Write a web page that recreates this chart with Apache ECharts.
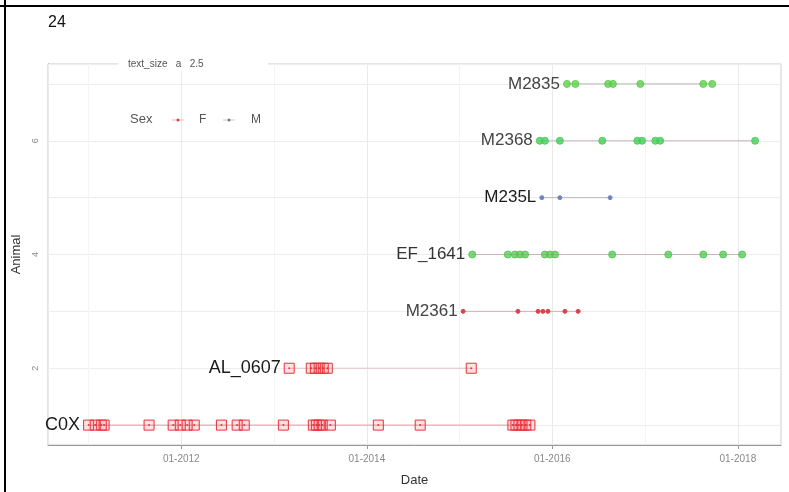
<!DOCTYPE html>
<html>
<head>
<meta charset="utf-8">
<script src="https://cdn.jsdelivr.net/npm/echarts@6/dist/echarts.min.js"></script>
<style>
  html, body { margin: 0; padding: 0; background: #fff; }
  #chart { width: 789px; height: 492px; }
</style>
</head>
<body>
<div id="chart"></div>
<script>
// animals, bottom row first
const animals = ['C0X', 'AL_0607', 'M2361', 'EF_1641', 'M235L', 'M2368', 'M2835'];
const animalRow = [1, 2, 3, 4, 5, 6, 7];
const sex = ['F', 'F', 'F', 'M', 'M', 'M', 'M'];

// sighting dates per animal
const datesC0X = ['2011-01-01', '2011-01-27', '2011-02-20', '2011-03-03', '2011-08-27', '2011-11-30',
  '2011-12-28', '2012-01-24', '2012-02-21', '2012-06-07', '2012-08-08', '2012-09-05', '2013-02-06',
  '2013-06-04', '2013-06-16', '2013-06-27', '2013-07-09', '2013-08-10', '2014-02-15', '2014-07-30',
  '2015-07-30', '2015-08-11', '2015-08-23', '2015-09-04', '2015-09-19', '2015-10-05'];
const datesAL0607 = ['2013-03-01', '2013-05-27', '2013-06-12', '2013-06-27', '2013-07-13', '2013-07-29', '2015-02-16'];
const datesM2361 = ['2015-01-15', '2015-08-19', '2015-11-06', '2015-11-25', '2015-12-15', '2016-02-20', '2016-04-12'];
const datesEF1641 = ['2015-02-20', '2015-07-10', '2015-08-07', '2015-08-27', '2015-09-16', '2015-12-03',
  '2015-12-23', '2016-01-12', '2016-08-24', '2017-04-02', '2017-08-18', '2017-11-04', '2018-01-18'];
const datesM235L = ['2015-11-21', '2016-01-31', '2016-08-16'];
const datesM2368 = ['2015-11-13', '2015-12-03', '2016-01-31', '2016-07-16', '2016-12-01', '2016-12-20',
  '2017-02-10', '2017-03-01', '2018-03-10'];
const datesM2835 = ['2016-02-28', '2016-04-01', '2016-08-08', '2016-08-27', '2016-12-13', '2017-08-18', '2017-09-22'];

const allDates = [datesC0X, datesAL0607, datesM2361, datesEF1641, datesM235L, datesM2368, datesM2835];

// x range of the panel
const xMin = '2010-07-25';
const xMax = '2018-06-20';
const yTickLabels = [2, 4, 6];

// look of each row (not data)
const rowStyle = [
  {sym: 'rect', size: 10, fill: 'rgba(255,60,70,0.15)', stroke: '#e8303a', line: '#e29aa1', font: 18, text: '#1a1a1a', dot: true},
  {sym: 'rect', size: 10, fill: 'rgba(255,60,70,0.15)', stroke: '#e8303a', line: '#e2c4c7', font: 18, text: '#1a1a1a', dot: true},
  {sym: 'circle', size: 4, fill: '#e0404a', stroke: '#e0404a', line: '#e4a8ad', font: 17, text: '#444'},
  {sym: 'circle', size: 7, fill: 'rgba(80,200,80,0.75)', stroke: 'rgba(80,200,80,0.9)', line: '#cdb4b8', font: 17, text: '#333'},
  {sym: 'circle', size: 4, fill: '#6a86c0', stroke: '#6a86c0', line: '#b8b8b8', font: 17, text: '#1a1a1a'},
  {sym: 'circle', size: 7, fill: 'rgba(70,205,90,0.8)', stroke: 'rgba(70,205,90,0.9)', line: '#c8b8bc', font: 17, text: '#444'},
  {sym: 'circle', size: 7, fill: 'rgba(90,205,70,0.75)', stroke: 'rgba(90,205,70,0.9)', line: '#b8b8b8', font: 17, text: '#444'}
];

const series = [];
animals.forEach((name, i) => {
  const st = rowStyle[i];
  const pts = allDates[i].map(d => [d, animalRow[i]]);
  series.push({
    type: 'line',
    name: name,
    data: pts,
    showAllSymbol: true,
    symbol: st.sym,
    symbolSize: st.size,
    itemStyle: {color: st.fill, borderColor: st.stroke, borderWidth: 1},
    lineStyle: {color: st.line, width: 1},
    label: {
      show: true,
      position: 'left',
      distance: 3,
      fontFamily: 'Liberation Sans',
      fontSize: st.font,
      color: st.text,
      formatter: p => p.dataIndex === 0 ? name : ''
    },
    emphasis: {disabled: true},
    z: 3
  });
  if (st.dot) {
    series.push({
      type: 'scatter',
      data: pts,
      symbol: 'circle',
      symbolSize: 2,
      itemStyle: {color: '#d6202c'},
      silent: true,
      z: 4
    });
  }
});

const chart = echarts.init(document.getElementById('chart'));
const oneYear = 365.25 * 86400000;

chart.setOption({
  animation: false,
  grid: {left: 48, right: 8, top: 64, bottom: 45, show: true, borderColor: '#c8c8c8', borderWidth: 1},
  xAxis: [{
    type: 'time',
    min: +new Date(xMin),
    max: +new Date(xMax),
    minInterval: 2 * oneYear,
    maxInterval: 2 * oneYear,
    name: 'Date',
    nameLocation: 'middle',
    nameGap: 29,
    nameTextStyle: {fontFamily: 'Liberation Sans', fontSize: 13, color: '#333'},
    axisLine: {show: true, lineStyle: {color: '#999'}},
    axisTick: {show: true, length: 4, lineStyle: {color: '#999'}},
    axisLabel: {
      fontFamily: 'Liberation Sans', fontSize: 10, color: '#888', margin: 9,
      hideOverlap: false,
      formatter: v => {
        const d = new Date(v);
        return String(d.getMonth() + 1).padStart(2, '0') + '-' + d.getFullYear();
      }
    },
    splitLine: {show: true, lineStyle: {color: '#e9e9e9'}},
    z: 2
  }, {
    // yearly faint grid only
    type: 'time',
    position: 'bottom',
    min: +new Date(xMin),
    max: +new Date(xMax),
    minInterval: oneYear,
    maxInterval: oneYear,
    axisLine: {show: false},
    axisTick: {show: false},
    axisLabel: {show: false},
    splitLine: {show: true, lineStyle: {color: '#f4f4f4'}},
    z: 1
  }],
  yAxis: {
    type: 'value',
    min: 0.65,
    max: 7.35,
    splitNumber: 7,
    name: 'Animal',
    nameLocation: 'middle',
    nameGap: 24,
    nameTextStyle: {fontFamily: 'Liberation Sans', fontSize: 13, color: '#333'},
    axisLine: {show: true, lineStyle: {color: '#999'}},
    axisTick: {show: false},
    axisLabel: {
      fontFamily: 'Liberation Sans', fontSize: 9, color: '#888', rotate: 90, margin: 8,
      showMinLabel: false, showMaxLabel: false,
      formatter: v => yTickLabels.indexOf(v) >= 0 ? String(v) : ''
    },
    splitLine: {show: true, lineStyle: {color: '#ededed'}}
  },
  graphic: [
    {type: 'line', shape: {x1: 5, y1: 0, x2: 5, y2: 492}, style: {stroke: '#000', lineWidth: 2}, z: 10},
    {type: 'line', shape: {x1: 0, y1: 6, x2: 789, y2: 6}, style: {stroke: '#000', lineWidth: 2}, z: 10},
    {type: 'text', left: 48, top: 15, style: {text: '24', fontFamily: 'Liberation Sans', fontSize: 16, fill: '#111'}},
    {type: 'rect', shape: {x: 118, y: 57, width: 150, height: 14}, style: {fill: '#fff'}, z: 10},
    {type: 'text', left: 128, top: 59, z: 11,
      style: {text: 'text_size   a   2.5', fontFamily: 'Liberation Sans', fontSize: 10, fill: '#555'}},
    {type: 'text', left: 130, top: 113, z: 11,
      style: {text: 'Sex', fontFamily: 'Liberation Sans', fontSize: 13, fill: '#555'}},
    {type: 'line', shape: {x1: 172, y1: 120, x2: 184, y2: 120}, style: {stroke: '#f2b8bd', lineWidth: 1}, z: 11},
    {type: 'circle', shape: {cx: 178, cy: 120, r: 1.5}, style: {fill: '#e0404a'}, z: 11},
    {type: 'text', left: 199, top: 114, z: 11,
      style: {text: 'F', fontFamily: 'Liberation Sans', fontSize: 12, fill: '#555'}},
    {type: 'line', shape: {x1: 223, y1: 120, x2: 235, y2: 120}, style: {stroke: '#ccc', lineWidth: 1}, z: 11},
    {type: 'circle', shape: {cx: 229, cy: 120, r: 1.5}, style: {fill: '#777'}, z: 11},
    {type: 'text', left: 251, top: 114, z: 11,
      style: {text: 'M', fontFamily: 'Liberation Sans', fontSize: 12, fill: '#555'}}
  ],
  series: series
});
</script>
</body>
</html>
